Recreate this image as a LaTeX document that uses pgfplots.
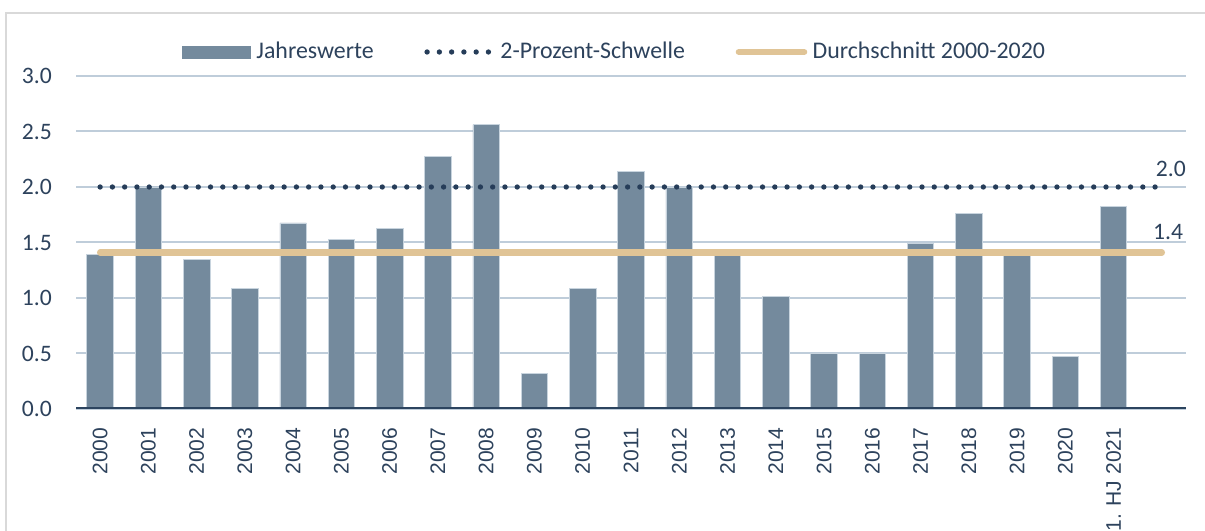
\documentclass[border=0pt]{standalone}
\usepackage{fontspec}
\setmainfont{Carlito}
\newfontfamily\xfont{Liberation Sans}
\usepackage{pgfplots}
\pgfplotsset{compat=1.18}
\definecolor{barcol}{RGB}{116,138,157}
\definecolor{baredge}{RGB}{200,212,222}
\definecolor{gridcol}{RGB}{191,205,218}
\definecolor{navy}{RGB}{38,61,89}
\definecolor{tancol}{RGB}{224,196,150}
\definecolor{axiscol}{RGB}{44,68,95}
\definecolor{textcol}{RGB}{45,66,92}
\definecolor{framecol}{RGB}{217,217,217}
\begin{document}
\fontsize{17.7}{21}\selectfont
\begin{tikzpicture}
\useasboundingbox (0,0) rectangle (903.75pt,398.25pt);
\draw[framecol, line width=1.5pt] (4.5pt,-2pt) -- (4.5pt,388.5pt) -- (906pt,388.5pt);
\begin{axis}[
  at={(57pt,91.5pt)}, anchor=south west,
  scale only axis, width=832.5pt, height=249.75pt,
  xmin=-0.5, xmax=22.5, ymin=0, ymax=3,
  ytick={0,0.5,1,1.5,2,2.5,3},
  /pgf/number format/fixed,
  /pgf/number format/fixed zerofill,
  /pgf/number format/precision=1,
  /pgf/number format/assume math mode=true,
  yticklabel style={text=textcol, font=\fontsize{17.7}{21}\selectfont},
  yticklabel shift=12pt,
  xtick={0,1,...,21},
  xticklabels={2000,2001,2002,2003,2004,2005,2006,2007,2008,2009,2010,2011,2012,2013,2014,2015,2016,2017,2018,2019,2020,1. HJ 2021},
  xticklabel style={rotate=90, anchor=east, text=textcol, font=\xfont\fontsize{15.8}{19}\selectfont},
  xticklabel shift=8pt,
  axis line style={draw=none},
  tick style={draw=none},
  ymajorgrids, grid style={gridcol, line width=1.5pt},
  legend columns=3,
  legend style={draw=none, fill=none, at={(0.5,1)}, anchor=center, xshift=-11pt, yshift=18pt,
    text=textcol, font=\fontsize{17.9}{21}\selectfont,
    /tikz/every even column/.append style={column sep=34pt},
    nodes={inner sep=4pt}},
]
\addplot[ybar, bar width=0.55, fill=barcol, draw=baredge, line width=0.6pt,
  legend image code/.code={\fill[barcol] (0pt,-4.5pt) rectangle (51pt,4.5pt);}]
  coordinates {(0,1.39) (1,2.00) (2,1.345) (3,1.087) (4,1.676) (5,1.529) (6,1.625) (7,2.279) (8,2.562) (9,0.324) (10,1.084) (11,2.144) (12,1.994) (13,1.441) (14,1.012) (15,0.50) (16,0.50) (17,1.489) (18,1.763) (19,1.441) (20,0.471) (21,1.826)};
\addlegendentry{Jahreswerte}
\addplot[navy, line width=4pt, line cap=round, dash pattern=on 0pt off 9.2pt,
  legend image code/.code={\draw[navy, line width=4pt, line cap=round, dash pattern=on 0pt off 9.2pt] (2pt,0pt) -- (51pt,0pt);}]
  coordinates {(0,2) (1,2) (2,2) (3,2) (4,2) (5,2) (6,2) (7,2) (8,2) (9,2) (10,2) (11,2) (12,2) (13,2) (14,2) (15,2) (16,2) (17,2) (18,2) (19,2) (20,2) (21,2) (22,2)};
\addlegendentry{2-Prozent-Schwelle}
\addplot[tancol, line width=4.7pt, line cap=round,
  legend image code/.code={\draw[tancol, line width=4.7pt, line cap=round] (2pt,0pt) -- (51pt,0pt);}]
  coordinates {(0,1.41) (1,1.41) (2,1.41) (3,1.41) (4,1.41) (5,1.41) (6,1.41) (7,1.41) (8,1.41) (9,1.41) (10,1.41) (11,1.41) (12,1.41) (13,1.41) (14,1.41) (15,1.41) (16,1.41) (17,1.41) (18,1.41) (19,1.41) (20,1.41) (21,1.41) (22,1.41)};
\addlegendentry{Durchschnitt 2000-2020}
\draw[axiscol, line width=3pt] (axis cs:-0.5,0) -- (axis cs:22.5,0);
\node[anchor=south east, inner sep=0pt, text=textcol, yshift=7.5pt] at (axis cs:22.5,2) {2.0};
\node[anchor=south east, inner sep=0pt, text=textcol, xshift=-2pt, yshift=9.4pt] at (axis cs:22.5,1.41) {1.4};
\end{axis}
\end{tikzpicture}
\end{document}
